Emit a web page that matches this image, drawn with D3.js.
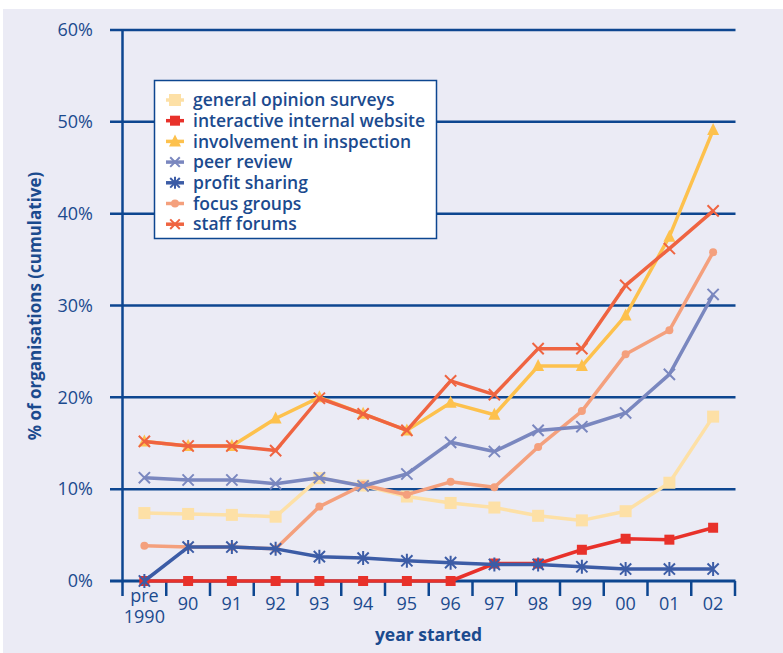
<!DOCTYPE html>
<html lang="en">
<head>
  <meta charset="UTF-8">
  <title>Chart</title>
  <style>
    body { margin: 0; background: #fff; }
    svg { display: block; }
    text { font-family: "Open Sans", "Noto Sans", sans-serif; fill: #1b4a8e; }
  </style>
</head>
<body>
  <svg width="783" height="653"></svg>
  <script src="https://d3js.org/d3.v7.min.js"></script>
  <script>

  var years = ['pre 1990', '90', '91', '92', '93', '94', '95', '96', '97', '98', '99', '00', '01', '02'];
  var yTicks = [0, 10, 20, 30, 40, 50, 60];

  var generalOpinion = [7.4, 7.3, 7.2, 7.0, 11.2, 10.4, 9.2, 8.5, 8.0, 7.1, 6.6, 7.6, 10.7, 17.9];
  var interactiveWebsite = [0, 0, 0, 0, 0, 0, 0, 0, 1.9, 1.9, 3.4, 4.6, 4.5, 5.8];
  var inspection = [15.2, 14.7, 14.7, 17.7, 20.0, 18.2, 16.4, 19.4, 18.1, 23.4, 23.4, 28.9, 37.5, 49.1];
  var peerReview = [11.25, 11.0, 11.0, 10.6, 11.25, 10.35, 11.65, 15.1, 14.1, 16.4, 16.8, 18.3, 22.5, 31.2];
  var profitSharing = [0, 3.7, 3.7, 3.5, 2.65, 2.5, 2.2, 2.0, 1.8, 1.8, 1.55, 1.3, 1.3, 1.3];
  var focusGroups = [3.85, 3.7, 3.7, 3.5, 8.1, 10.45, 9.4, 10.8, 10.2, 14.6, 18.5, 24.7, 27.3, 35.8];
  var staffForums = [15.2, 14.7, 14.7, 14.2, 19.9, 18.2, 16.4, 21.8, 20.3, 25.3, 25.3, 32.2, 36.2, 40.3];

  var series = [
    { name: 'general opinion surveys', values: generalOpinion, color: '#fde0a6', marker: 'square', size: 12, order: 0 },
    { name: 'interactive internal website', values: interactiveWebsite, color: '#e8312a', marker: 'square', size: 10, order: 3 },
    { name: 'involvement in inspection', values: inspection, color: '#fdc14d', marker: 'triangle', size: 12, order: 2 },
    { name: 'peer review', values: peerReview, color: '#7a87bf', marker: 'cross', size: 14, order: 4 },
    { name: 'profit sharing', values: profitSharing, color: '#3c5ca6', marker: 'star', size: 14, order: 5 },
    { name: 'focus groups', values: focusGroups, color: '#f4a07d', marker: 'dot', size: 8, order: 1 },
    { name: 'staff forums', values: staffForums, color: '#ef6441', marker: 'cross', size: 14, order: 6 }
  ];

  var navy = '#0d4690';
  var svg = d3.select('svg');

  // background panel
  svg.append('rect').attr('x', 3).attr('y', 9).attr('width', 780).attr('height', 644).attr('fill', '#ebebf5');

  var x = d3.scaleBand().domain(years).range([122.5, 735]);
  var y = d3.scaleLinear().domain([0, 60]).range([581, 30]);

  // gridlines
  svg.append('g').selectAll('line').data(yTicks).enter().append('line')
    .attr('x1', 110).attr('x2', 735.5)
    .attr('y1', function(d) { return y(d); }).attr('y2', function(d) { return y(d); })
    .attr('stroke', navy).attr('stroke-width', function(d) { return d === 0 ? 3 : 2.5; });

  svg.append('g').selectAll('text').data(yTicks).enter().append('text')
    .attr('x', 93).attr('y', function(d) { return y(d); })
    .attr('dy', '0.35em').attr('text-anchor', 'end')
    .style('font-size', '18px')
    .text(function(d) { return d + '%'; });

  // y axis line
  svg.append('line').attr('x1', 122.5).attr('x2', 122.5).attr('y1', 29).attr('y2', 596)
    .attr('stroke', navy).attr('stroke-width', 2.5);

  // x ticks at band edges
  var edges = years.map(function(d) { return x(d); }).concat([x.range()[1]]);
  svg.append('g').selectAll('line').data(edges.slice(1)).enter().append('line')
    .attr('x1', function(d) { return d; }).attr('x2', function(d) { return d; })
    .attr('y1', 581).attr('y2', 596)
    .attr('stroke', navy).attr('stroke-width', 2.5);

  var xl = svg.append('g').selectAll('text').data(years).enter().append('text')
    .attr('x', function(d) { return x(d) + x.bandwidth() / 2; })
    .attr('text-anchor', 'middle')
    .style('font-size', '18px');
  xl.each(function(d) {
    var parts = d.split(' ');
    var t = d3.select(this);
    if (parts.length === 1) {
      t.attr('y', 610).text(d);
    } else {
      t.append('tspan').attr('x', x(d) + x.bandwidth() / 2).attr('y', 602).text(parts[0]);
      t.append('tspan').attr('x', x(d) + x.bandwidth() / 2).attr('y', 623).text(parts[1]);
    }
  });

  svg.append('text').attr('x', 428.5).attr('y', 641).attr('text-anchor', 'middle')
    .style('font-size', '17.5px').style('font-weight', 700)
    .text('year started');

  svg.append('text').attr('transform', 'translate(41,306) rotate(-90)')
    .attr('text-anchor', 'middle')
    .style('font-size', '17px').style('font-weight', 700)
    .text('% of organisations (cumulative)');

  function drawMarker(g, m, cx, cy, color, size) {
    var h = size / 2;
    if (m === 'square') {
      g.append('rect').attr('x', cx - h).attr('y', cy - h).attr('width', size).attr('height', size).attr('fill', color);
    } else if (m === 'triangle') {
      g.append('path').attr('d', 'M' + cx + ',' + (cy - h - 1) + 'L' + (cx + h) + ',' + (cy + h - 1) + 'L' + (cx - h) + ',' + (cy + h - 1) + 'Z').attr('fill', color);
    } else if (m === 'dot') {
      g.append('circle').attr('cx', cx).attr('cy', cy).attr('r', h).attr('fill', color);
    } else {
      var a = h * 0.8;
      var d = 'M' + (cx - a) + ',' + (cy - a) + 'L' + (cx + a) + ',' + (cy + a) +
              'M' + (cx - a) + ',' + (cy + a) + 'L' + (cx + a) + ',' + (cy - a);
      if (m === 'star') d += 'M' + cx + ',' + (cy - h) + 'L' + cx + ',' + (cy + h);
      g.append('path').attr('d', d).attr('stroke', color).attr('stroke-width', 2).attr('fill', 'none');
    }
  }

  var line = d3.line()
    .x(function(d, i) { return x(years[i]) + x.bandwidth() / 2; })
    .y(function(d) { return y(d); });

  var ordered = series.slice().sort(function(a, b) { return a.order - b.order; });
  ordered.forEach(function(s) {
    var g = svg.append('g');
    g.append('path').datum(s.values).attr('d', line)
      .attr('fill', 'none').attr('stroke', s.color).attr('stroke-width', 3.5)
      .attr('stroke-linejoin', 'round');
    s.values.forEach(function(v, i) {
      drawMarker(g, s.marker, x(years[i]) + x.bandwidth() / 2, y(v), s.color, s.size);
    });
  });

  // legend
  var lg = svg.append('g');
  lg.append('rect').attr('x', 154.5).attr('y', 80.5).attr('width', 282).attr('height', 158)
    .attr('fill', '#fff').attr('stroke', navy).attr('stroke-width', 1.5);
  series.forEach(function(s, i) {
    var cy = 100 + i * 20.7;
    lg.append('line').attr('x1', 166).attr('x2', 184).attr('y1', cy).attr('y2', cy)
      .attr('stroke', s.color).attr('stroke-width', 3.5);
    drawMarker(lg, s.marker, 175, cy, s.color, Math.min(s.size, 12));
    lg.append('text').attr('x', 193).attr('y', cy).attr('dy', '0.35em')
      .style('font-size', '17.5px').style('font-weight', 600)
      .text(s.name);
  });

  </script>
</body>
</html>
